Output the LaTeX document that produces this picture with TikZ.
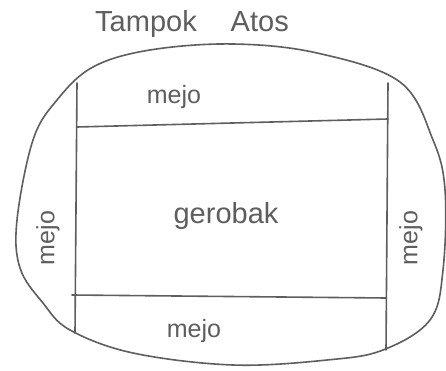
\documentclass[tikz,border=0pt]{standalone}
\usepackage{fontspec}
\setmainfont{Liberation Sans}
\definecolor{pencil}{HTML}{5E5E5E}
\begin{document}
\begin{tikzpicture}[x=1pt,y=-1pt,
  stroke/.style={draw=pencil,line width=1.6pt,line cap=round,line join=round},
  lbl/.style={text=pencil,inner sep=0pt,font=\fontsize{25}{28}\selectfont}]
\useasboundingbox[fill=white] (0,0) rectangle (446,371);
% outer oval
\draw[stroke] plot[smooth cycle,tension=0.6] coordinates {
 (233,44) (317,53) (400,82) (433,140) (445,190) (443,270) (430,320)
 (383,350) (327,360) (233,365) (133,353) (70,330) (43,303) (20,268)
 (17,220) (33,140) (57,100) (93,67) (150,50)};
% frame corners
\coordinate (tl) at (77,83);
\coordinate (tr) at (388,83);
\coordinate (bl) at (75,333);
\coordinate (br) at (386,350);
\coordinate (ht1) at (77,127);
\coordinate (ht2) at (388,119);
\coordinate (hb1) at (72,295);
\coordinate (hb2) at (386,298);
\draw[stroke] (tl) -- (bl);
\draw[stroke] (tr) -- (br);
\draw[stroke] (ht1) -- (ht2);
\draw[stroke] (hb1) -- (hb2);
% labels
\node[lbl,font=\fontsize{29}{32}\selectfont] (title) at (192,24) {Tampok\hspace{34pt}Atos};
\node[lbl] (mtop) at (174,97) {mejo};
\node[lbl] (mbot) at (194,331) {mejo};
\node[lbl,rotate=90] (mleft) at (48,238) {mejo};
\node[lbl,rotate=90] (mright) at (411,238) {mejo};
\node[lbl,font=\fontsize{29}{32}\selectfont] (cart) at (226,216) {gerobak};
\end{tikzpicture}
\end{document}
